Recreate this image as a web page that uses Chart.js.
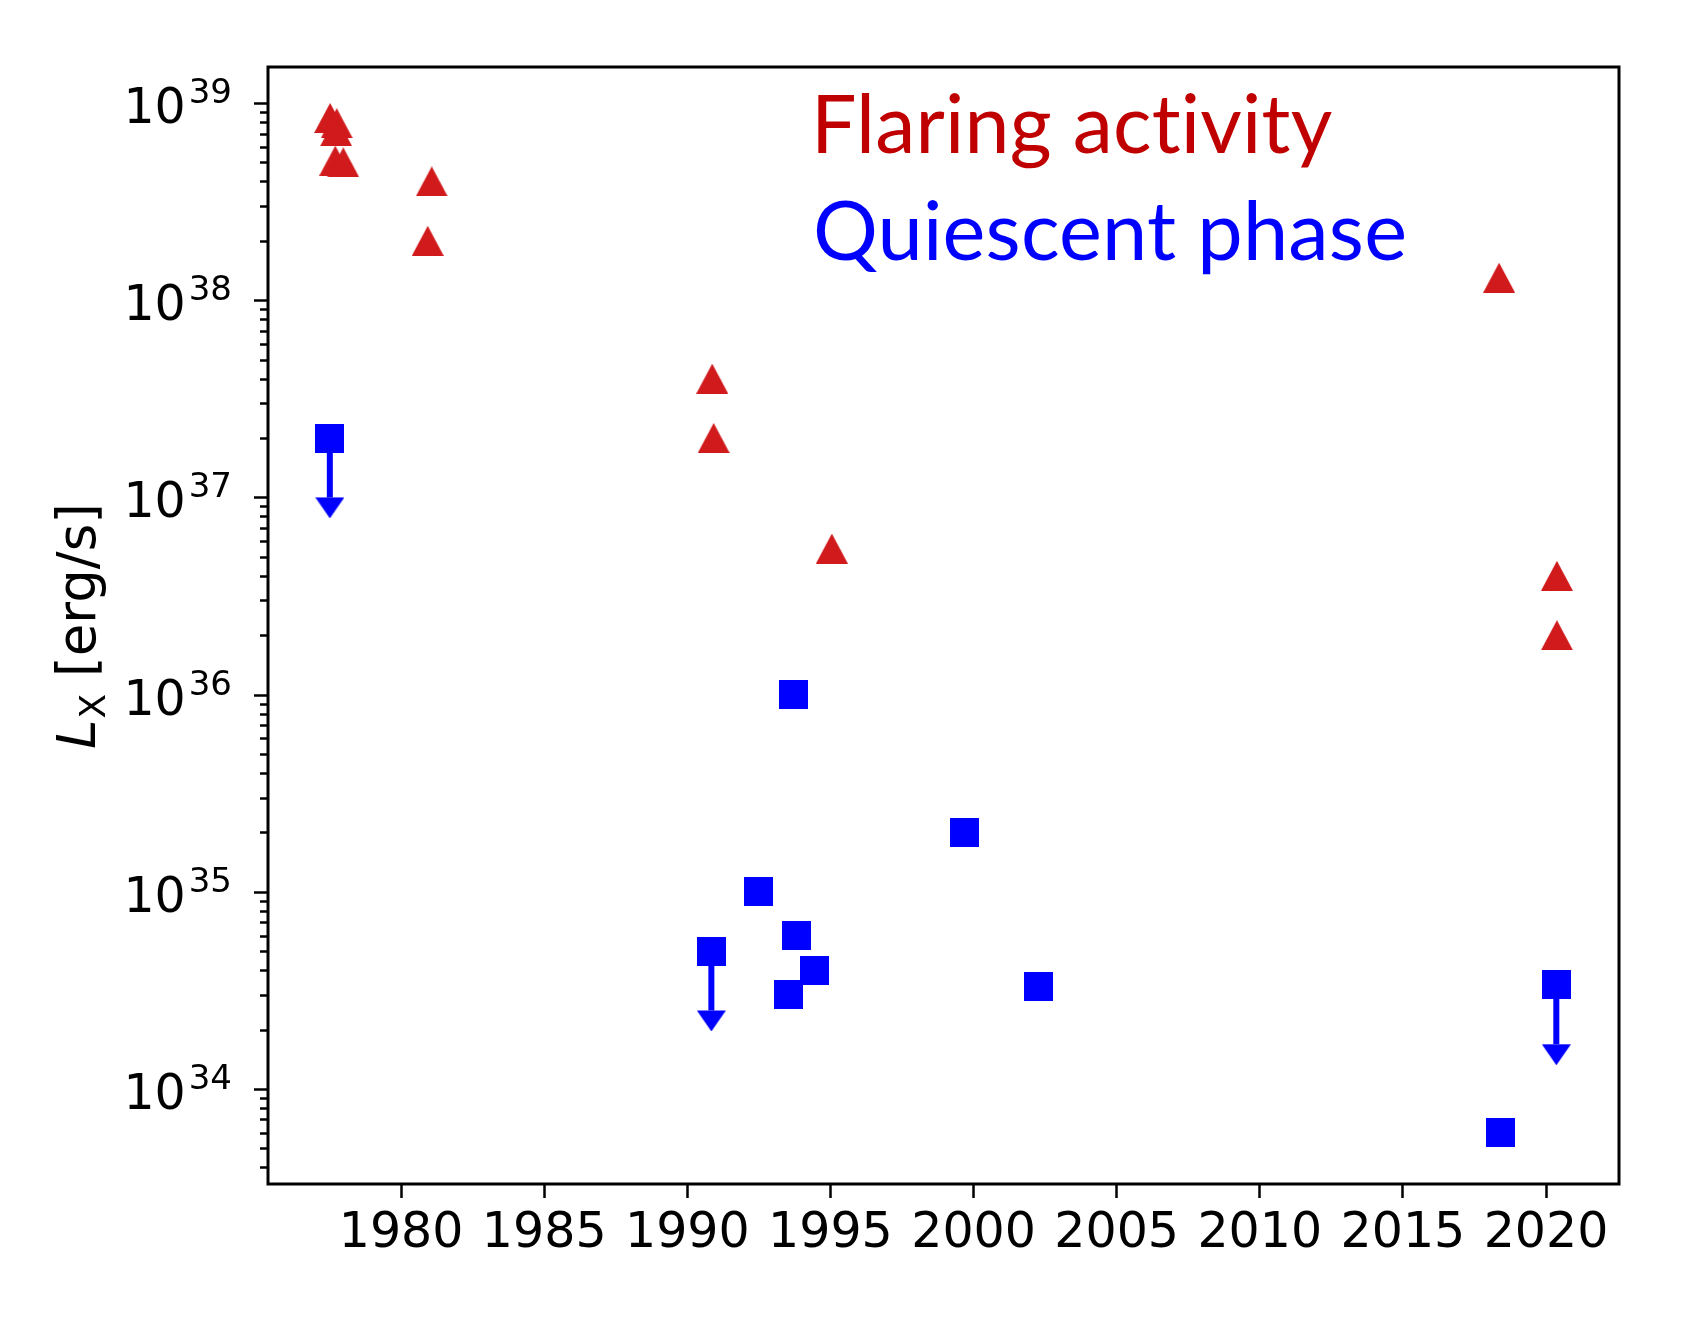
<!DOCTYPE html>
<html>
<head>
<meta charset="utf-8">
<title>X-ray luminosity history</title>
<script src="https://cdn.jsdelivr.net/npm/chart.js@4.4.1/dist/chart.umd.min.js"></script>
<style>
  html, body { margin: 0; padding: 0; background: #fff; }
  #wrap { width: 1682px; height: 1318px; }
</style>
</head>
<body>
<div id="wrap"><canvas id="myChart" width="1682" height="1318"></canvas></div>
<script>
// values
// flaring activity (red triangles)
const flareYears = [1977.52, 1977.75, 1977.73, 1977.70, 1977.98, 1981.07, 1980.93, 1990.87, 1990.92, 1995.05, 2018.36, 2020.38, 2020.38];
const flareLx = [8.4e38, 7.9e38, 7.2e38, 5.1e38, 5.0e38, 4.0e38, 2.0e38, 4.0e37, 2.0e37, 5.5e36, 1.3e38, 4.0e36, 2.0e36];

// quiescent phase (blue squares), some of them upper limits
const quietYears = [1977.51, 1990.84, 1992.50, 1993.72, 1993.82, 1993.52, 1994.44, 1999.68, 2002.26, 2018.41, 2020.36];
const quietLx = [2.0e37, 5.0e34, 1.0e35, 1.0e36, 6.0e34, 3.0e34, 4.0e34, 2.0e35, 3.3e34, 6.0e33, 3.37e34];
const quietUpperLimit = [true, true, false, false, false, false, false, false, false, false, true];

// axes
const xTicks = [1980, 1985, 1990, 1995, 2000, 2005, 2010, 2015, 2020];
const yDecades = [34, 35, 36, 37, 38, 39];
const xMin = 1975.35, xMax = 2022.55;
const yMin = Math.pow(10, 33.518), yMax = Math.pow(10, 39.1826);

// texts
const yTitle = ['L', 'X', ' [erg/s]'];
const labelLines = ['Flaring activity', 'Quiescent phase'];

const red = '#d11a1c';
const blue = '#0000ff';
const labelColors = ['#c00000', '#0000ff'];

// marker images, so the shapes match the matplotlib ones
function shapeImage(w, h, color, kind) {
    const c = document.createElement('canvas');
    c.width = w;
    c.height = kind === 'caret' ? 2 * h : h;
    const g = c.getContext('2d');
    g.fillStyle = color;
    g.beginPath();
    if (kind === 'triangle') {
        g.moveTo(w / 2, 0);
        g.lineTo(w, h);
        g.lineTo(0, h);
    } else if (kind === 'caret') {
        // base sits on the point, tip below
        g.moveTo(0, h);
        g.lineTo(w, h);
        g.lineTo(w / 2, 2 * h);
    } else {
        g.rect(0, 0, w, h);
    }
    g.closePath();
    g.fill();
    return c;
}

const triangleImg = shapeImage(32, 30, red, 'triangle');
const squareImg = shapeImage(29, 29, blue, 'square');
const caretImg = shapeImage(29, 21, blue, 'caret');

// upper limit arrows: a line down to half the value, then a caret
const limitLines = [];
const limitHeads = [];
quietYears.forEach(function (yr, i) {
    if (!quietUpperLimit[i]) return;
    limitLines.push({
        type: 'line',
        data: [{ x: yr, y: quietLx[i] }, { x: yr, y: quietLx[i] / 2 }],
        borderColor: blue,
        borderWidth: 6,
        pointRadius: 0,
        showLine: true,
        fill: false
    });
    limitHeads.push({ x: yr, y: quietLx[i] / 2 });
});

const datasets = [
    {
        label: 'Flaring activity',
        data: flareYears.map((x, i) => ({ x: x, y: flareLx[i] })),
        pointStyle: triangleImg,
        pointRadius: 15
    },
    {
        label: 'Quiescent phase',
        data: quietYears.map((x, i) => ({ x: x, y: quietLx[i] })),
        pointStyle: squareImg,
        pointRadius: 15
    },
    {
        label: 'upper limit heads',
        data: limitHeads,
        pointStyle: caretImg,
        pointRadius: 15
    }
].concat(limitLines);

// frame, log axis ticks/labels, axis title and the two coloured labels
const decorations = {
    id: 'decorations',
    afterDraw(chart) {
        const ctx = chart.ctx;
        const a = chart.chartArea;
        const y = chart.scales.y;
        ctx.save();

        // frame
        ctx.strokeStyle = '#000';
        ctx.lineWidth = 3;
        ctx.strokeRect(a.left, a.top, a.right - a.left, a.bottom - a.top);

        // log ticks
        ctx.lineWidth = 2.5;
        const lo = Math.floor(Math.log10(y.min));
        const hi = Math.ceil(Math.log10(y.max));
        for (let n = lo; n <= hi; n++) {
            for (let m = 1; m < 10; m++) {
                const v = m * Math.pow(10, n);
                if (v < y.min || v > y.max) continue;
                const py = Math.round(y.getPixelForValue(v)) + 0.5;
                const len = m === 1 ? 14 : 8;
                ctx.beginPath();
                ctx.moveTo(a.left - len, py);
                ctx.lineTo(a.left, py);
                ctx.stroke();
            }
        }

        // 10^n labels
        ctx.fillStyle = '#000';
        ctx.textAlign = 'right';
        ctx.textBaseline = 'alphabetic';
        const labelRight = a.left - 36;
        yDecades.forEach(function (n) {
            const py = y.getPixelForValue(Math.pow(10, n));
            ctx.font = '34px "DejaVu Sans"';
            const sup = String(n);
            const supW = ctx.measureText(sup).width;
            ctx.fillText(sup, labelRight, py);
            ctx.font = '49px "DejaVu Sans"';
            ctx.fillText('10', labelRight - supW - 3, py + 20);
        });

        // y title, rotated
        ctx.save();
        ctx.translate(95, (a.top + a.bottom) / 2 + 1);
        ctx.rotate(-Math.PI / 2);
        ctx.textAlign = 'left';
        const fMain = 'italic 53px "DejaVu Sans"';
        const fSub = '36px "DejaVu Sans"';
        const fRest = '53px "DejaVu Sans"';
        ctx.font = fMain; const w0 = ctx.measureText(yTitle[0]).width;
        ctx.font = fSub; const w1 = ctx.measureText(yTitle[1]).width;
        ctx.font = fRest; const w2 = ctx.measureText(yTitle[2]).width;
        let tx = -(w0 + w1 + w2) / 2;
        ctx.font = fMain; ctx.fillText(yTitle[0], tx, 0); tx += w0 + 1;
        ctx.font = fSub; ctx.fillText(yTitle[1], tx, 10); tx += w1;
        ctx.font = fRest; ctx.fillText(yTitle[2], tx, 0);
        ctx.restore();

        // coloured labels, sized to the ink widths in the figure
        const inkLeft = [818, 816];
        const inkWidth = [513, 587];
        const baselines = [152.5, 259.6];
        ctx.textAlign = 'left';
        // a tiny spacing keeps the "ti" ligature from forming
        if ('letterSpacing' in ctx) ctx.letterSpacing = '0.2px';
        labelLines.forEach(function (txt, i) {
            ctx.font = '100px Lato';
            let m = ctx.measureText(txt);
            const size = 100 * inkWidth[i] / (m.actualBoundingBoxLeft + m.actualBoundingBoxRight);
            ctx.font = size.toFixed(1) + 'px Lato';
            m = ctx.measureText(txt);
            ctx.fillStyle = labelColors[i];
            ctx.fillText(txt, inkLeft[i] + m.actualBoundingBoxLeft, baselines[i]);
        });

        ctx.restore();
    }
};

const config = {
    type: 'scatter',
    data: { datasets: datasets },
    options: {
        responsive: false,
        devicePixelRatio: 1,
        animation: false,
        layout: { padding: { left: 268, top: 67, right: 63, bottom: 34 } },
        scales: {
            x: {
                type: 'linear',
                min: xMin,
                max: xMax,
                afterBuildTicks: function (s) {
                    s.ticks = xTicks.map(v => ({ value: v }));
                },
                afterFit: function (s) {
                    s.height = 100;
                },
                border: { display: false },
                grid: {
                    drawOnChartArea: false,
                    drawTicks: true,
                    tickLength: 14,
                    tickWidth: 2.5,
                    tickColor: '#000'
                },
                ticks: {
                    color: '#000',
                    font: { family: 'DejaVu Sans', size: 49 },
                    padding: 7,
                    maxRotation: 0,
                    autoSkip: false,
                    callback: v => String(v)
                }
            },
            y: {
                type: 'logarithmic',
                display: false,
                min: yMin,
                max: yMax
            }
        },
        plugins: {
            legend: { display: false },
            tooltip: { enabled: false }
        }
    },
    plugins: [decorations]
};

const myChart = new Chart(document.getElementById('myChart'), config);
</script>
</body>
</html>
